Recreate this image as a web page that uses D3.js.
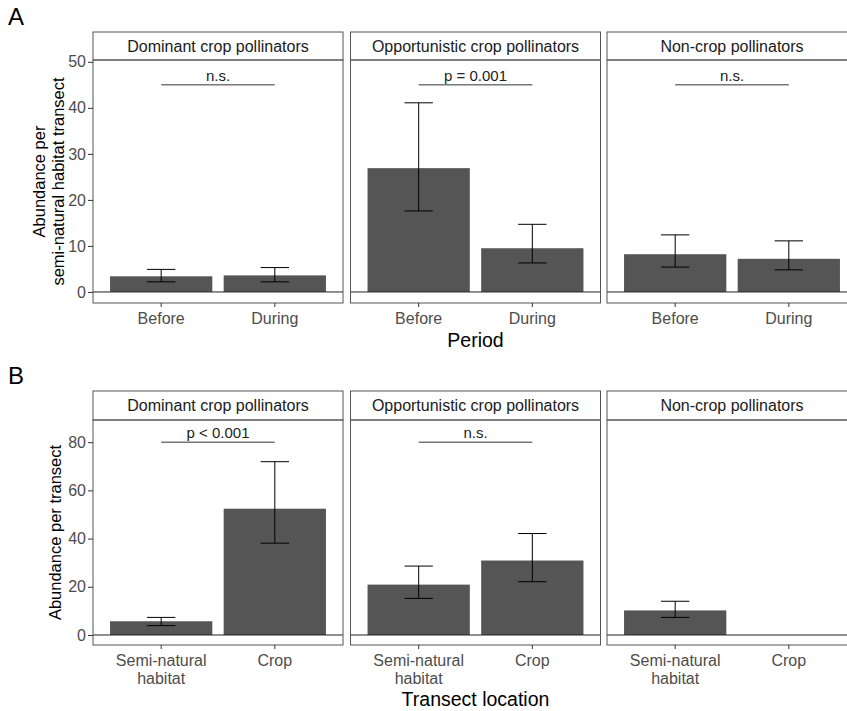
<!DOCTYPE html>
<html>
<head>
<meta charset="utf-8">
<script src="https://cdn.jsdelivr.net/npm/d3@7"></script>
<style>
  body { margin: 0; background: #fff; }
  text { font-family: "Liberation Sans", Arial, sans-serif; }
</style>
</head>
<body>
<div id="chart"></div>
<script>
// groups (facets)
const groups = ["Dominant crop pollinators", "Opportunistic crop pollinators", "Non-crop pollinators"];

// panel A: period
const periods = ["Before", "During"];
const periodMean = [[3.4, 3.6], [26.9, 9.5], [8.2, 7.2]];
const periodLow = [[2.2, 2.2], [17.6, 6.3], [5.4, 4.8]];
const periodHigh = [[4.9, 5.3], [41.1, 14.7], [12.4, 11.1]];
const periodSig = ["n.s.", "p = 0.001", "n.s."];
const periodSigY = 45;
const periodTicks = [0, 10, 20, 30, 40, 50];

// panel B: transect location
const locations = ["Semi-natural habitat", "Crop"];
const locationLines = [["Semi-natural", "habitat"], ["Crop"]];
const locMean = [[5.7, 52.4], [20.9, 30.9], [10.2, null]];
const locLow = [[3.9, 38.1], [15.2, 22.1], [7.3, null]];
const locHigh = [[7.3, 71.9], [28.6, 42.1], [14.0, null]];
const locSig = ["p < 0.001", "n.s.", null];
const locSigY = 80;
const locTicks = [0, 20, 40, 60, 80];

const width = 847, height = 711;
const svg = d3.select("#chart").append("svg").attr("width", width).attr("height", height);

const panelLefts = [93, 350.5, 607];
const panelW = 250;

function drawRow(cfg) {
    const y = d3.scaleLinear().domain(cfg.domain).range([cfg.bottom, cfg.stripBottom]);

    panelLefts.forEach((left, gi) => {
        const x = d3.scaleBand().domain(cfg.cats).range([left, left + panelW])
            .paddingInner(0.1).paddingOuter(0.15);
        const g = svg.append("g");

        // strip
        g.append("rect")
            .attr("x", left).attr("y", cfg.stripTop)
            .attr("width", panelW).attr("height", cfg.stripBottom - cfg.stripTop)
            .attr("fill", "#fff").attr("stroke", "#555").attr("stroke-width", 1);
        g.append("text")
            .attr("x", left + panelW / 2).attr("y", (cfg.stripTop + cfg.stripBottom) / 2 + 5.5)
            .attr("text-anchor", "middle").attr("font-size", 16).attr("fill", "#1a1a1a")
            .text(groups[gi]);

        // bars
        cfg.cats.forEach((c, ci) => {
            const m = cfg.mean[gi][ci];
            if (m == null) return;
            g.append("rect")
                .attr("x", x(c)).attr("width", x.bandwidth())
                .attr("y", y(m)).attr("height", y(0) - y(m))
                .attr("fill", "#555555");
        });

        // error bars
        const cap = x.step() * 0.125;
        cfg.cats.forEach((c, ci) => {
            const lo = cfg.low[gi][ci], hi = cfg.high[gi][ci];
            if (lo == null) return;
            const cx = x(c) + x.bandwidth() / 2;
            g.append("line").attr("x1", cx).attr("x2", cx).attr("y1", y(lo)).attr("y2", y(hi))
                .attr("stroke", "#000").attr("stroke-width", 1);
            [lo, hi].forEach(v => {
                g.append("line").attr("x1", cx - cap).attr("x2", cx + cap)
                    .attr("y1", y(v)).attr("y2", y(v))
                    .attr("stroke", "#000").attr("stroke-width", 1);
            });
        });

        // zero line
        g.append("line").attr("x1", left).attr("x2", left + panelW)
            .attr("y1", y(0)).attr("y2", y(0))
            .attr("stroke", "#222").attr("stroke-width", 1);

        // significance
        if (cfg.sig[gi]) {
            const x1 = x(cfg.cats[0]) + x.bandwidth() / 2;
            const x2 = x(cfg.cats[1]) + x.bandwidth() / 2;
            g.append("line").attr("x1", x1).attr("x2", x2)
                .attr("y1", y(cfg.sigY)).attr("y2", y(cfg.sigY))
                .attr("stroke", "#333").attr("stroke-width", 1);
            g.append("text").attr("x", (x1 + x2) / 2).attr("y", y(cfg.sigY) - 4)
                .attr("text-anchor", "middle").attr("font-size", 15).attr("fill", "#222")
                .text(cfg.sig[gi]);
        }

        // panel border
        g.append("rect")
            .attr("x", left).attr("y", cfg.stripBottom)
            .attr("width", panelW).attr("height", cfg.bottom - cfg.stripBottom)
            .attr("fill", "none").attr("stroke", "#555").attr("stroke-width", 1);

        // x axis
        const xa = g.append("g").attr("transform", `translate(0,${cfg.bottom})`)
            .call(d3.axisBottom(x).tickSize(4).tickFormat(""));
        xa.select(".domain").remove();
        xa.selectAll(".tick line").attr("stroke", "#333");
        cfg.cats.forEach((c, ci) => {
            const t = g.append("text")
                .attr("x", x(c) + x.bandwidth() / 2).attr("y", cfg.bottom + 21)
                .attr("text-anchor", "middle").attr("font-size", 16).attr("fill", "#4d4d4d");
            cfg.lines[ci].forEach((ln, li) => {
                t.append("tspan").attr("x", x(c) + x.bandwidth() / 2).attr("dy", li ? 18 : 0).text(ln);
            });
        });
    });

    // y axis
    const ya = svg.append("g").attr("transform", `translate(${panelLefts[0]},0)`)
        .call(d3.axisLeft(y).tickValues(cfg.ticks).tickSize(5).tickPadding(2));
    ya.select(".domain").remove();
    ya.selectAll(".tick line").attr("stroke", "#333");
    ya.selectAll(".tick text").attr("font-size", 16).attr("fill", "#4d4d4d")
        .attr("font-family", "Liberation Sans, Arial, sans-serif");

    // y title
    const cy = (cfg.stripBottom + cfg.bottom) / 2;
    const yt = svg.append("text").attr("transform", `translate(${cfg.yTitleX},${cy}) rotate(-90)`)
        .attr("text-anchor", "middle").attr("font-size", 16.5).attr("fill", "#000");
    cfg.yTitle.forEach((ln, li) => {
        yt.append("tspan").attr("x", 0).attr("dy", li ? 19 : 0).text(ln);
    });

    // x title
    svg.append("text")
        .attr("x", panelLefts[1] + panelW / 2).attr("y", cfg.xTitleY)
        .attr("text-anchor", "middle").attr("font-size", 19.5).attr("fill", "#000")
        .text(cfg.xTitle);

    // tag
    svg.append("text").attr("x", 8).attr("y", cfg.stripTop - 7)
        .attr("font-size", 24).attr("fill", "#000").text(cfg.tag);
}

drawRow({
    tag: "A",
    cats: periods, lines: periods.map(p => [p]),
    mean: periodMean, low: periodLow, high: periodHigh,
    sig: periodSig, sigY: periodSigY, ticks: periodTicks,
    domain: [-2.4, 50.4], stripTop: 32, stripBottom: 60, bottom: 303,
    yTitle: ["Abundance per", "semi-natural habitat transect"], yTitleX: 45,
    xTitle: "Period", xTitleY: 347
});

drawRow({
    tag: "B",
    cats: locations, lines: locationLines,
    mean: locMean, low: locLow, high: locHigh,
    sig: locSig, sigY: locSigY, ticks: locTicks,
    domain: [-4.15, 89.2], stripTop: 391, stripBottom: 420, bottom: 645,
    yTitle: ["Abundance per transect"], yTitleX: 61,
    xTitle: "Transect location", xTitleY: 706
});
</script>
</body>
</html>
